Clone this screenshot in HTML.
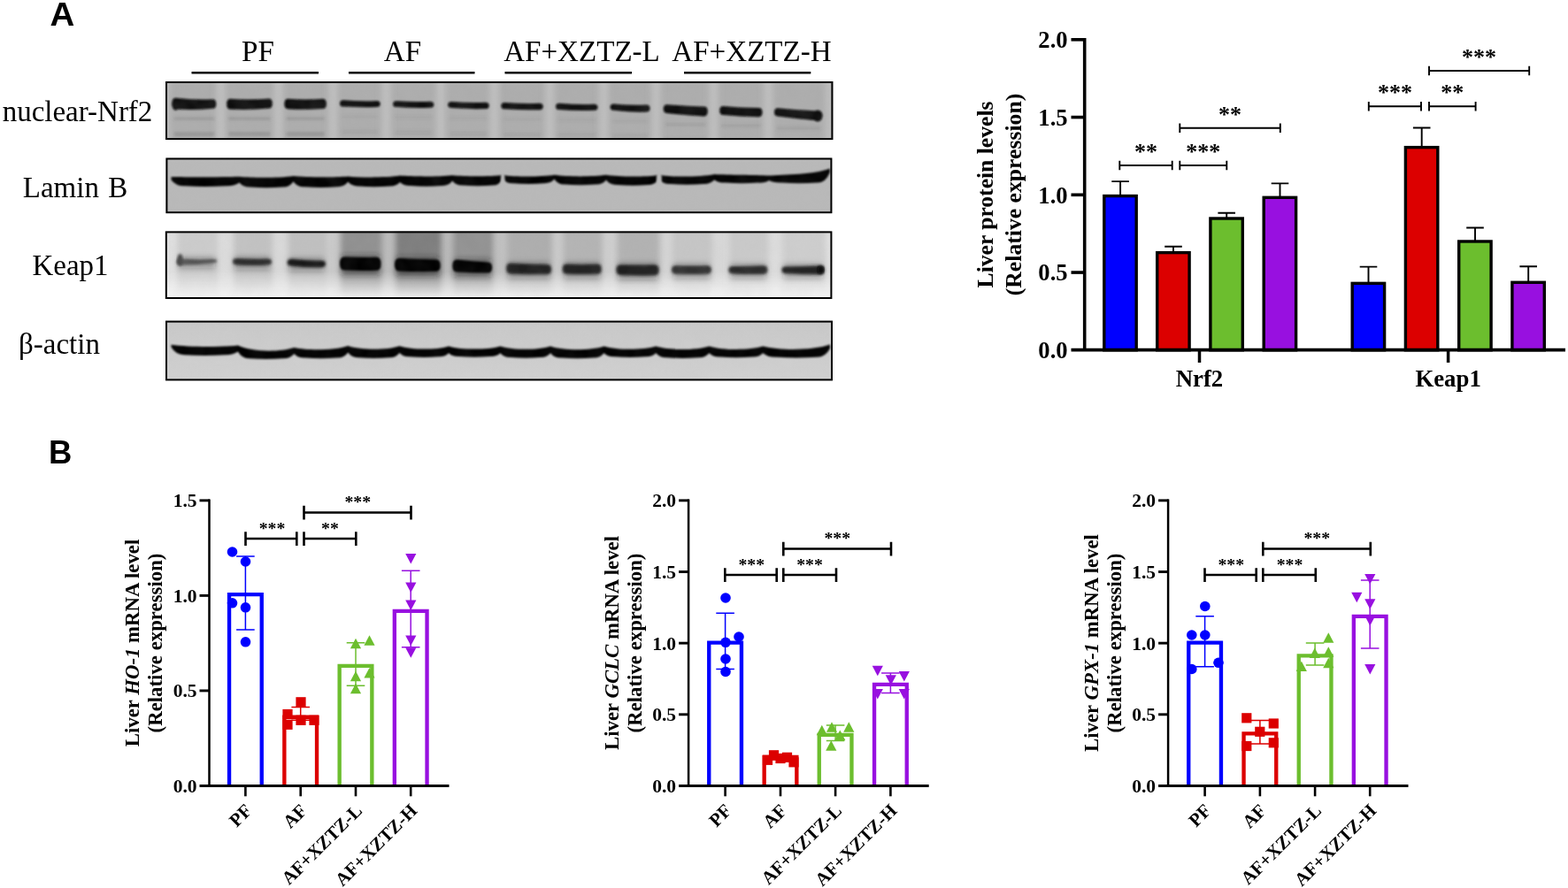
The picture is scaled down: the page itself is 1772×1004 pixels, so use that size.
<!DOCTYPE html>
<html lang="en"><head><meta charset="utf-8"><title>Figure</title>
<style>html,body{margin:0;padding:0;background:#fff}svg{display:block}text{fill:#000}</style></head><body>
<svg width="1772" height="1004" viewBox="0 0 1772 1004">
<rect width="1772" height="1004" fill="#fff"/>
<text transform="translate(56.4 29.3) scale(1.12 1.05)" font-family="Liberation Sans, sans-serif" font-weight="bold" font-size="34.4">A</text>
<text transform="translate(55 524.2) scale(1.06 1.05)" font-family="Liberation Sans, sans-serif" font-weight="bold" font-size="34.4">B</text>
<defs>
<filter id="b1" x="-5%" y="-50%" width="110%" height="200%"><feGaussianBlur stdDeviation="1.1"/></filter>
<filter id="b5" x="-5%" y="-50%" width="110%" height="200%"><feGaussianBlur stdDeviation="1.4"/></filter>
<filter id="b2" x="-5%" y="-50%" width="110%" height="200%"><feGaussianBlur stdDeviation="1.8"/></filter>
<filter id="b3" x="-5%" y="-20%" width="110%" height="140%"><feGaussianBlur stdDeviation="3.2"/></filter>
<filter id="b4" x="-5%" y="-50%" width="110%" height="200%"><feGaussianBlur stdDeviation="2.6 1.6"/></filter>
<filter id="nz" x="0" y="0" width="100%" height="100%"><feTurbulence type="fractalNoise" baseFrequency="0.06" numOctaves="2" seed="3"/><feColorMatrix values="0 0 0 0 0.5  0 0 0 0 0.5  0 0 0 0 0.5  0.9 0 0 -0.32 0"/></filter>
<clipPath id="cp0"><rect x="187" y="92" width="754.4" height="66.1"/></clipPath>
<clipPath id="cp1"><rect x="187.4" y="178.5" width="753" height="62.7"/></clipPath>
<clipPath id="cp2"><rect x="186.8" y="261.4" width="753.6" height="76.6"/></clipPath>
<clipPath id="cp3"><rect x="187" y="362.6" width="754" height="67.8"/></clipPath>
<linearGradient id="kfade" x1="0" y1="0" x2="0" y2="1"><stop offset="0" stop-color="#fff"/><stop offset="0.6" stop-color="#fff"/><stop offset="0.8" stop-color="#777"/><stop offset="1" stop-color="#000"/></linearGradient>
<mask id="km" maskUnits="userSpaceOnUse" x="180" y="255" width="770" height="90"><rect x="180" y="261" width="770" height="77" fill="url(#kfade)"/></mask>
<linearGradient id="kbase" x1="187" y1="0" x2="941" y2="0" gradientUnits="userSpaceOnUse"><stop offset="0" stop-color="#e0e0e0"/><stop offset="0.2" stop-color="#d8d8d8"/><stop offset="0.3" stop-color="#bcbcbc"/><stop offset="0.45" stop-color="#b8b8b8"/><stop offset="0.55" stop-color="#c8c8c8"/><stop offset="0.75" stop-color="#d4d4d4"/><stop offset="1" stop-color="#e0e0e0"/></linearGradient>
<linearGradient id="bgrad" x1="0" y1="0" x2="0" y2="1"><stop offset="0" stop-color="#c9c9c9"/><stop offset="1" stop-color="#d1d1d1"/></linearGradient>
</defs>
<text x="291.5" y="68.8" text-anchor="middle" font-family="Liberation Serif, serif" font-size="33.1">PF</text>
<text x="455" y="68.8" text-anchor="middle" font-family="Liberation Serif, serif" font-size="33.1">AF</text>
<text x="657.5" y="68.8" text-anchor="middle" font-family="Liberation Serif, serif" font-size="33.1">AF+XZTZ-L</text>
<text x="849.5" y="68.8" text-anchor="middle" font-family="Liberation Serif, serif" font-size="33.1">AF+XZTZ-H</text>
<path d="M216.5 82.2H360" stroke="#000" stroke-width="2.4"/>
<path d="M394 82.2H536.5" stroke="#000" stroke-width="2.4"/>
<path d="M570.5 82.2H714" stroke="#000" stroke-width="2.4"/>
<path d="M773 82.2H916.3" stroke="#000" stroke-width="2.4"/>
<text x="87.5" y="137" text-anchor="middle" word-spacing="0" font-family="Liberation Serif, serif" font-size="33">nuclear-Nrf2</text>
<text x="85" y="222.5" text-anchor="middle" word-spacing="2" font-family="Liberation Serif, serif" font-size="33">Lamin B</text>
<text x="79.5" y="310.5" text-anchor="middle" word-spacing="0" font-family="Liberation Serif, serif" font-size="33">Keap1</text>
<text x="67" y="400" text-anchor="middle" word-spacing="0" font-family="Liberation Serif, serif" font-size="33">β-actin</text>
<g clip-path="url(#cp0)">
<rect x="187" y="92" width="754.4" height="66.1" fill="#adadad"/>
<g filter="url(#b3)">
<rect x="244.4" y="82" width="10" height="86.1" fill="#c0c0c0"/>
<rect x="309.6" y="82" width="10" height="86.1" fill="#c0c0c0"/>
<rect x="371.4" y="82" width="10" height="86.1" fill="#c0c0c0"/>
<rect x="431.5" y="82" width="10" height="86.1" fill="#c0c0c0"/>
<rect x="493" y="82" width="10" height="86.1" fill="#c0c0c0"/>
<rect x="553.7" y="82" width="10" height="86.1" fill="#c0c0c0"/>
<rect x="616.3" y="82" width="10" height="86.1" fill="#c0c0c0"/>
<rect x="677.2" y="82" width="10" height="86.1" fill="#c0c0c0"/>
<rect x="736.5" y="82" width="10" height="86.1" fill="#c0c0c0"/>
<rect x="801.5" y="82" width="10" height="86.1" fill="#c0c0c0"/>
<rect x="863.2" y="82" width="10" height="86.1" fill="#c0c0c0"/>
<rect x="183" y="82" width="9" height="86.1" fill="#bcbcbc"/>
<rect x="932" y="82" width="12" height="86.1" fill="#bcbcbc"/>
</g>
<g filter="url(#b2)">
<rect x="196.4" y="132.7" width="45.9" height="3" fill="#555" opacity="0.24"/>
<rect x="196.4" y="149.2" width="45.9" height="5" fill="#555" opacity="0.24"/>
<rect x="258.2" y="132.6" width="47.6" height="3" fill="#555" opacity="0.24"/>
<rect x="258.2" y="149.1" width="47.6" height="5" fill="#555" opacity="0.24"/>
<rect x="323.4" y="132.6" width="43.4" height="3" fill="#555" opacity="0.24"/>
<rect x="323.4" y="149.1" width="43.4" height="5" fill="#555" opacity="0.24"/>
<rect x="386" y="130.25" width="41.7" height="3" fill="#555" opacity="0.1"/>
<rect x="386" y="146.75" width="41.7" height="5" fill="#555" opacity="0.1"/>
<rect x="446.1" y="130.95" width="42.2" height="3" fill="#555" opacity="0.1"/>
<rect x="446.1" y="147.45" width="42.2" height="5" fill="#555" opacity="0.1"/>
<rect x="508.2" y="132.05" width="42.5" height="3" fill="#555" opacity="0.1"/>
<rect x="508.2" y="148.55" width="42.5" height="5" fill="#555" opacity="0.1"/>
<rect x="568.3" y="133.25" width="43.4" height="3" fill="#555" opacity="0.1"/>
<rect x="568.3" y="149.75" width="43.4" height="5" fill="#555" opacity="0.1"/>
<rect x="630" y="133.9" width="43.5" height="3" fill="#555" opacity="0.1"/>
<rect x="630" y="150.4" width="43.5" height="5" fill="#555" opacity="0.1"/>
<rect x="691.6" y="135.2" width="40.9" height="3" fill="#555" opacity="0.1"/>
<rect x="691.6" y="151.7" width="40.9" height="5" fill="#555" opacity="0.1"/>
<rect x="751.7" y="139.2" width="46" height="3" fill="#555" opacity="0.16"/>
<rect x="751.7" y="155.7" width="46" height="5" fill="#555" opacity="0.16"/>
<rect x="815.2" y="140.6" width="44.3" height="3" fill="#555" opacity="0.16"/>
<rect x="815.2" y="157.1" width="44.3" height="5" fill="#555" opacity="0.16"/>
<rect x="877" y="143.4" width="50.2" height="3" fill="#555" opacity="0.16"/>
<rect x="877" y="159.9" width="50.2" height="5" fill="#555" opacity="0.16"/>
</g>
<g filter="url(#b1)" fill="#0a0a0a">
<path d="M198.4 110.8Q219.35 113.1 240.3 112.2Q244.3 112.2 244.3 117.5Q244.3 122.8 240.3 122.8Q219.35 124.8 198.4 123.6Q194.4 123.6 194.4 117.2Q194.4 110.8 198.4 110.8Z"/>
<path d="M260.2 111.8Q282 113.3 303.8 111.6Q307.8 111.6 307.8 117.1Q307.8 122.6 303.8 122.6Q282 124.7 260.2 123.6Q256.2 123.6 256.2 117.7Q256.2 111.8 260.2 111.8Z"/>
<path d="M325.4 111.8Q345.1 113 364.8 111.8Q368.8 111.8 368.8 117.4Q368.8 123 364.8 123Q345.1 124.3 325.4 123.2Q321.4 123.2 321.4 117.5Q321.4 111.8 325.4 111.8Z"/>
<path d="M388 113.3Q406.85 114.65 425.7 114Q429.7 114 429.7 117.5Q429.7 121 425.7 121Q406.85 121.75 388 120.5Q384 120.5 384 116.9Q384 113.3 388 113.3Z"/>
<path d="M448.1 114.3Q467.2 115.55 486.3 114.8Q490.3 114.8 490.3 118.3Q490.3 121.8 486.3 121.8Q467.2 122.45 448.1 121.1Q444.1 121.1 444.1 117.7Q444.1 114.3 448.1 114.3Z"/>
<path d="M510.2 115.1Q529.45 116.45 548.7 115.8Q552.7 115.8 552.7 119.4Q552.7 123 548.7 123Q529.45 123.55 510.2 122.1Q506.2 122.1 506.2 118.6Q506.2 115.1 510.2 115.1Z"/>
<path d="M570.3 116Q590 117.4 609.7 116.8Q613.7 116.8 613.7 120.5Q613.7 124.2 609.7 124.2Q590 124.75 570.3 123.3Q566.3 123.3 566.3 119.65Q566.3 116 570.3 116Z"/>
<path d="M632 116.8Q651.75 118.5 671.5 117.8Q675.5 117.8 675.5 121.3Q675.5 124.8 671.5 124.8Q651.75 125.6 632 124Q628 124 628 120.4Q628 116.8 632 116.8Z"/>
<path d="M693.6 117.6Q712.05 119.3 730.5 118.6Q734.5 118.6 734.5 122.6Q734.5 126.6 730.5 126.6Q712.05 126.9 693.6 124.8Q689.6 124.8 689.6 121.2Q689.6 117.6 693.6 117.6Z"/>
<path d="M753.7 118.2Q774.7 120 795.7 120.6Q799.7 120.6 799.7 126Q799.7 131.4 795.7 131.4Q774.7 130.3 753.7 128Q749.7 128 749.7 123.1Q749.7 118.2 753.7 118.2Z"/>
<path d="M817.2 120Q837.35 122 857.5 122Q861.5 122 861.5 127.1Q861.5 132.2 857.5 132.2Q837.35 132.1 817.2 130Q813.2 130 813.2 125Q813.2 120 817.2 120Z"/>
<path d="M879 122.2Q902.1 124.5 925.2 125.6Q929.2 125.6 929.2 131Q929.2 136.4 925.2 136.4Q902.1 134.5 879 131.4Q875 131.4 875 126.8Q875 122.2 879 122.2Z"/>
<ellipse cx="198.5" cy="117.8" rx="4" ry="7"/>
<ellipse cx="924" cy="131" rx="5.5" ry="6.5"/>
</g>
<rect x="187" y="92" width="754.4" height="66.1" filter="url(#nz)" opacity="0.16"/>
</g>
<g clip-path="url(#cp1)">
<rect x="187.4" y="178.5" width="753" height="62.7" fill="#b9b9b9"/>
<path d="M193.5 200C212.78 200.3 251.33 200.3 270.6 199.8C285.83 201.27 316.27 201.27 331.5 199C346.95 200.53 377.85 200.53 393.3 199.4C407.98 200.87 437.32 200.87 452 198.6C466.82 199.73 496.48 199.73 511.3 198.2C525.48 199.57 553.83 199.57 568 198C582.6 200.17 611.8 200.17 626.4 197.8C641.05 199.93 670.35 199.93 685 197.8C699.9 200.17 729.7 200.17 744.6 198C760.27 200.3 791.62 200.3 807.3 197C822.72 197.8 853.58 197.8 869 198.6C886.2 197.3 920.6 197.3 937.8 190.4L937.8 195Q932.98 206.7 924.04 206.4Q903.4 207.9 882.76 206.4Q873.82 206.7 869 204Q864.68 206.9 856.66 206.6Q838.15 208.1 819.64 206.6Q811.62 206.9 807.3 203.2Q802.91 208.3 794.76 208Q775.95 209.5 757.14 208Q748.99 208.3 744.6 202Q740.43 209.3 732.68 209Q714.8 210.5 696.92 209Q689.17 209.3 685 203.6Q680.9 208.9 673.28 208.6Q655.7 210.1 638.12 208.6Q630.5 208.9 626.4 202.6Q622.31 207.5 614.72 207.2Q597.2 208.7 579.68 207.2Q572.09 207.5 568 202Q564.03 209.9 556.66 209.6Q539.65 211.1 522.64 209.6Q515.27 209.9 511.3 204.6Q507.15 210.3 499.44 210Q481.65 211.5 463.86 210Q456.15 210.3 452 206Q447.89 210.7 440.26 210.4Q422.65 211.9 405.04 210.4Q397.41 210.7 393.3 205.6Q388.97 211.5 380.94 211.2Q362.4 212.7 343.86 211.2Q335.83 211.5 331.5 205.2Q327.24 211.9 319.32 211.6Q301.05 213.1 282.78 211.6Q274.86 211.9 270.6 206.6Q265.2 210.5 255.18 210.2Q232.05 211.7 208.92 210.2Q198.9 210.5 193.5 203.4Z" fill="#050505" filter="url(#b1)"/>
<g filter="url(#b1)" fill="#b9b9b9"><ellipse cx="568.2" cy="202" rx="2.3" ry="8"/><ellipse cx="744.8" cy="202" rx="3" ry="8"/></g>
<rect x="187.4" y="178.5" width="753" height="62.7" filter="url(#nz)" opacity="0.13"/>
</g>
<g clip-path="url(#cp2)">
<rect x="186.8" y="261.4" width="753.6" height="76.6" fill="#f7f7f7"/>
<g mask="url(#km)">
<rect x="186.8" y="261.4" width="753.6" height="76.6" fill="url(#kbase)"/>
<g filter="url(#b3)">
<rect x="200.5" y="253.4" width="45.7" height="92.6" fill="#cccccc"/>
<rect x="264" y="253.4" width="44" height="92.6" fill="#c2c2c2"/>
<rect x="325.7" y="253.4" width="43.3" height="92.6" fill="#c0c0c0"/>
<rect x="385" y="253.4" width="46.5" height="92.6" fill="#909090"/>
<rect x="447" y="253.4" width="51.7" height="92.6" fill="#7e7e7e"/>
<rect x="512.3" y="253.4" width="44.8" height="92.6" fill="#929292"/>
<rect x="573.2" y="253.4" width="50.8" height="92.6" fill="#aeaeae"/>
<rect x="636.7" y="253.4" width="44" height="92.6" fill="#b4b4b4"/>
<rect x="697.4" y="253.4" width="48.2" height="92.6" fill="#b2b2b2"/>
<rect x="760" y="253.4" width="44.9" height="92.6" fill="#c6c6c6"/>
<rect x="824.4" y="253.4" width="44" height="92.6" fill="#cacaca"/>
<rect x="884.5" y="253.4" width="48.2" height="92.6" fill="#cecece"/>
</g></g>
<g filter="url(#b3)">
<rect x="201.5" y="290.8" width="41.7" height="12.6" fill="#222" opacity="0.3"/>
<rect x="265" y="290.2" width="40" height="14.3" fill="#222" opacity="0.3"/>
<rect x="326.7" y="291.6" width="39.3" height="14.9" fill="#222" opacity="0.3"/>
<rect x="386" y="288.7" width="42.5" height="22" fill="#222" opacity="0.5"/>
<rect x="448" y="290.7" width="47.7" height="20.9" fill="#222" opacity="0.5"/>
<rect x="513.3" y="293.1" width="40.8" height="20" fill="#222" opacity="0.5"/>
<rect x="574.2" y="296.3" width="46.8" height="18.4" fill="#222" opacity="0.3"/>
<rect x="637.7" y="296.6" width="40" height="18.2" fill="#222" opacity="0.3"/>
<rect x="698.4" y="297.2" width="44.2" height="18.9" fill="#222" opacity="0.3"/>
<rect x="761" y="298.2" width="40.9" height="16.6" fill="#222" opacity="0.3"/>
<rect x="825.4" y="298.6" width="40" height="16.1" fill="#222" opacity="0.3"/>
<rect x="885.5" y="298.7" width="44.2" height="16" fill="#222" opacity="0.3"/>
</g>
<path d="M204.5 292.6Q222.35 294 240.2 293Q245.2 293 245.2 295.1Q245.2 297.2 240.2 297.2Q222.35 299.6 204.5 299.6Q199.5 299.6 199.5 296.1Q199.5 292.6 204.5 292.6Z" fill="#4a4a4a" opacity="0.9" filter="url(#b5)"/>
<path d="M268 292Q285 293.4 302 292.4Q307 292.4 307 296Q307 299.6 302 299.6Q285 300.7 268 299.4Q263 299.4 263 295.7Q263 292 268 292Z" fill="#262626" opacity="0.95" filter="url(#b5)"/>
<path d="M329.7 292.8Q346.35 294.8 363 294.4Q368 294.4 368 298.3Q368 302.2 363 302.2Q346.35 302.7 329.7 300.8Q324.7 300.8 324.7 296.8Q324.7 292.8 329.7 292.8Z" fill="#161616" opacity="1" filter="url(#b5)"/>
<path d="M389 290.6Q407.25 291.3 425.5 290.8Q430.5 290.8 430.5 298.3Q430.5 305.8 425.5 305.8Q407.25 306.3 389 305.6Q384 305.6 384 298.1Q384 290.6 389 290.6Z" fill="#000" opacity="1" filter="url(#b1)"/>
<path d="M451 292Q471.85 293.3 492.7 293.4Q497.7 293.4 497.7 300.1Q497.7 306.8 492.7 306.8Q471.85 307.2 451 306.4Q446 306.4 446 299.2Q446 292 451 292Z" fill="#000" opacity="1" filter="url(#b1)"/>
<path d="M516.3 293.6Q533.7 295.7 551.1 296.6Q556.1 296.6 556.1 302.6Q556.1 308.6 551.1 308.6Q533.7 308.7 516.3 307.6Q511.3 307.6 511.3 300.6Q511.3 293.6 516.3 293.6Z" fill="#000" opacity="1" filter="url(#b1)"/>
<path d="M577.2 297.6Q597.6 298.9 618 299Q623 299 623 304.5Q623 310 618 310Q597.6 310.3 577.2 309.4Q572.2 309.4 572.2 303.5Q572.2 297.6 577.2 297.6Z" fill="#1a1a1a" opacity="0.97" filter="url(#b5)"/>
<path d="M640.7 298.6Q657.7 299.2 674.7 298.6Q679.7 298.6 679.7 304.2Q679.7 309.8 674.7 309.8Q657.7 310.4 640.7 309.8Q635.7 309.8 635.7 304.2Q635.7 298.6 640.7 298.6Z" fill="#1e1e1e" opacity="0.97" filter="url(#b5)"/>
<path d="M701.4 299.2Q720.5 299.8 739.6 299.2Q744.6 299.2 744.6 305.2Q744.6 311.2 739.6 311.2Q720.5 311.7 701.4 311Q696.4 311 696.4 305.1Q696.4 299.2 701.4 299.2Z" fill="#1a1a1a" opacity="0.97" filter="url(#b5)"/>
<path d="M764 300.2Q781.45 300.8 798.9 300.2Q803.9 300.2 803.9 305Q803.9 309.8 798.9 309.8Q781.45 310.4 764 309.8Q759 309.8 759 305Q759 300.2 764 300.2Z" fill="#2a2a2a" opacity="0.95" filter="url(#b5)"/>
<path d="M828.4 301Q845.4 301.2 862.4 300.2Q867.4 300.2 867.4 305.1Q867.4 310 862.4 310Q845.4 310.3 828.4 309.4Q823.4 309.4 823.4 305.2Q823.4 301 828.4 301Z" fill="#242424" opacity="0.95" filter="url(#b5)"/>
<path d="M888.5 301.2Q907.6 301.3 926.7 300.2Q931.7 300.2 931.7 305.2Q931.7 310.2 926.7 310.2Q907.6 310.3 888.5 309.2Q883.5 309.2 883.5 305.2Q883.5 301.2 888.5 301.2Z" fill="#1e1e1e" opacity="0.97" filter="url(#b5)"/>
<ellipse cx="203.5" cy="294" rx="3.2" ry="7" fill="#444" filter="url(#b2)"/>
<ellipse cx="927.5" cy="305" rx="4" ry="4.6" fill="#080808" filter="url(#b5)"/>
<rect x="186.8" y="261.4" width="753.6" height="76.6" filter="url(#nz)" opacity="0.12"/>
</g>
<g clip-path="url(#cp3)">
<rect x="187" y="362.6" width="754" height="67.8" fill="url(#bgrad)"/>
<path d="M193.5 389.8C212.35 392.6 250.05 392.6 268.9 390.6C284.77 398.2 316.52 398.2 332.4 393C347.62 396.27 378.07 396.27 393.3 391C407.85 396.03 436.95 396.03 451.5 391.2C465.38 395.7 493.12 395.7 507 391.4C521.6 395.67 550.8 395.67 565.4 391.4C579.58 395.93 607.92 395.93 622.1 391.4C637.2 396.47 667.4 396.47 682.5 391.4C697.2 395.9 726.6 395.9 741.3 391.6C756.32 396.17 786.38 396.17 801.4 391.4C816.62 396.17 847.07 396.17 862.3 391.6C881.22 396.47 919.08 396.47 938 389.6L938 394Q932.7 404.1 922.86 403.8Q900.15 405.3 877.44 403.8Q867.6 404.1 862.3 399.2Q858.04 403.7 850.12 403.4Q831.85 404.9 813.58 403.4Q805.66 403.7 801.4 399.2Q797.19 404.5 789.38 404.2Q771.35 405.7 753.32 404.2Q745.51 404.5 741.3 399.2Q737.18 403.5 729.54 403.2Q711.9 404.7 694.26 403.2Q686.62 403.5 682.5 399.2Q678.27 404.7 670.42 404.4Q652.3 405.9 634.18 404.4Q626.33 404.7 622.1 399.2Q618.13 404.3 610.76 404Q593.75 405.5 576.74 404Q569.37 404.3 565.4 399.2Q561.31 403.3 553.72 403Q536.2 404.5 518.68 403Q511.09 403.3 507 399.2Q503.12 403.5 495.9 403.2Q479.25 404.7 462.6 403.2Q455.38 403.5 451.5 399Q447.43 404.5 439.86 404.2Q422.4 405.7 404.94 404.2Q397.37 404.5 393.3 398.6Q389.04 404.9 381.12 404.6Q362.85 406.1 344.58 404.6Q336.66 404.9 332.4 400Q327.95 405.5 319.7 405.2Q300.65 406.7 281.6 405.2Q273.34 405.5 268.9 397.6Q263.62 401.5 253.82 401.2Q231.2 402.7 208.58 401.2Q198.78 401.5 193.5 392.6Z" fill="#050505" filter="url(#b1)"/>
<rect x="187" y="362.6" width="754" height="67.8" filter="url(#nz)" opacity="0.1"/>
</g>
<rect x="188" y="93" width="752.4" height="64.1" fill="none" stroke="#000" stroke-width="2"/>
<rect x="188.4" y="179.5" width="751" height="60.7" fill="none" stroke="#000" stroke-width="2"/>
<rect x="187.8" y="262.4" width="751.6" height="74.6" fill="none" stroke="#000" stroke-width="2"/>
<rect x="188" y="363.6" width="752" height="65.8" fill="none" stroke="#000" stroke-width="2"/>
<path d="M1266.1 221.25V205.08M1256.3 205.08H1275.9" stroke="#000" stroke-width="1.9" fill="none"/>
<rect x="1247.8" y="221.55" width="36.4" height="174.25" fill="#0000ff" stroke="#000" stroke-width="3.4"/>
<path d="M1326 285.31V278.79M1316.2 278.79H1335.8" stroke="#000" stroke-width="1.9" fill="none"/>
<rect x="1307.7" y="285.61" width="36.4" height="110.19" fill="#dc0000" stroke="#000" stroke-width="3.4"/>
<path d="M1386.2 246.7V240.71M1376.4 240.71H1396" stroke="#000" stroke-width="1.9" fill="none"/>
<rect x="1367.9" y="247" width="36.4" height="148.8" fill="#6cbe2e" stroke="#000" stroke-width="3.4"/>
<path d="M1446.5 223V207.36M1436.7 207.36H1456.3" stroke="#000" stroke-width="1.9" fill="none"/>
<rect x="1428.2" y="223.31" width="36.4" height="172.5" fill="#9810e0" stroke="#000" stroke-width="3.4"/>
<path d="M1546.5 320.06V301.61M1536.7 301.61H1556.3" stroke="#000" stroke-width="1.9" fill="none"/>
<rect x="1528.2" y="320.36" width="36.4" height="75.44" fill="#0000ff" stroke="#000" stroke-width="3.4"/>
<path d="M1606.7 166.32V144.54M1596.9 144.54H1616.5" stroke="#000" stroke-width="1.9" fill="none"/>
<rect x="1588.4" y="166.62" width="36.4" height="229.18" fill="#dc0000" stroke="#000" stroke-width="3.4"/>
<path d="M1667 272.67V257.56M1657.2 257.56H1676.8" stroke="#000" stroke-width="1.9" fill="none"/>
<rect x="1648.7" y="272.97" width="36.4" height="122.83" fill="#6cbe2e" stroke="#000" stroke-width="3.4"/>
<path d="M1727.2 319V301.26M1717.4 301.26H1737" stroke="#000" stroke-width="1.9" fill="none"/>
<rect x="1708.9" y="319.3" width="36.4" height="76.5" fill="#9810e0" stroke="#000" stroke-width="3.4"/>
<path d="M1225.7 43V397.2M1210.5 395.6H1769" stroke="#000" stroke-width="3.6" fill="none"/>
<path d="M1210.5 308.05H1226" stroke="#000" stroke-width="3.6"/>
<path d="M1210.5 220.3H1226" stroke="#000" stroke-width="3.6"/>
<path d="M1210.5 132.55H1226" stroke="#000" stroke-width="3.6"/>
<path d="M1210.5 44.8H1226" stroke="#000" stroke-width="3.6"/>
<text x="1206.6" y="405.1" text-anchor="end" font-family="Liberation Serif, serif" font-weight="bold" font-size="26.6">0.0</text>
<text x="1206.6" y="317.35" text-anchor="end" font-family="Liberation Serif, serif" font-weight="bold" font-size="26.6">0.5</text>
<text x="1206.6" y="229.6" text-anchor="end" font-family="Liberation Serif, serif" font-weight="bold" font-size="26.6">1.0</text>
<text x="1206.6" y="141.85" text-anchor="end" font-family="Liberation Serif, serif" font-weight="bold" font-size="26.6">1.5</text>
<text x="1206.6" y="54.1" text-anchor="end" font-family="Liberation Serif, serif" font-weight="bold" font-size="26.6">2.0</text>
<path d="M1355.5 395.5V410" stroke="#000" stroke-width="3.5"/>
<text x="1355.5" y="437.2" text-anchor="middle" font-family="Liberation Serif, serif" font-weight="bold" font-size="26.8">Nrf2</text>
<path d="M1636.6 395.5V410" stroke="#000" stroke-width="3.5"/>
<text x="1636.6" y="437.2" text-anchor="middle" font-family="Liberation Serif, serif" font-weight="bold" font-size="26.8">Keap1</text>
<text transform="translate(1122.2 220) rotate(-90)" text-anchor="middle" font-family="Liberation Serif, serif" font-weight="bold" font-size="25.6">Liver protein levels</text>
<text transform="translate(1154 220) rotate(-90)" text-anchor="middle" font-family="Liberation Serif, serif" font-weight="bold" font-size="25.7">(Relative expression)</text>
<path d="M1265.3 181.8V192.2M1324.7 181.8V192.2M1265.3 187H1324.7" stroke="#000" stroke-width="1.9" fill="none"/>
<text x="1295" y="179.9" text-anchor="middle" font-family="Liberation Serif, serif" font-weight="bold" font-size="26">**</text>
<path d="M1333.3 181.8V192.2M1386.3 181.8V192.2M1333.3 187H1386.3" stroke="#000" stroke-width="1.9" fill="none"/>
<text x="1359.8" y="179.9" text-anchor="middle" font-family="Liberation Serif, serif" font-weight="bold" font-size="26">***</text>
<path d="M1333.3 139.6V150M1446.8 139.6V150M1333.3 144.8H1446.8" stroke="#000" stroke-width="1.9" fill="none"/>
<text x="1390.05" y="137.6" text-anchor="middle" font-family="Liberation Serif, serif" font-weight="bold" font-size="26">**</text>
<path d="M1546.8 115.1V125.5M1606 115.1V125.5M1546.8 120.3H1606" stroke="#000" stroke-width="1.9" fill="none"/>
<text x="1576.4" y="113.2" text-anchor="middle" font-family="Liberation Serif, serif" font-weight="bold" font-size="26">***</text>
<path d="M1615 115.1V125.5M1667.6 115.1V125.5M1615 120.3H1667.6" stroke="#000" stroke-width="1.9" fill="none"/>
<text x="1641.3" y="113.2" text-anchor="middle" font-family="Liberation Serif, serif" font-weight="bold" font-size="26">**</text>
<path d="M1615 74.8V85.2M1728.2 74.8V85.2M1615 80H1728.2" stroke="#000" stroke-width="1.9" fill="none"/>
<text x="1671.6" y="73.1" text-anchor="middle" font-family="Liberation Serif, serif" font-weight="bold" font-size="26">***</text>
<path d="M259.05 888.45V672.1H295.75V888.45" fill="none" stroke="#0000ff" stroke-width="4.35" stroke-linejoin="miter"/>
<path d="M277.4 629V712M267.1 629H287.7M267.1 712H287.7" stroke="#0000ff" stroke-width="1.5" fill="none"/>
<circle cx="262.5" cy="624" r="5.8" fill="#0000ff"/>
<circle cx="277.5" cy="635" r="5.8" fill="#0000ff"/>
<circle cx="262.5" cy="681.8" r="5.8" fill="#0000ff"/>
<circle cx="277.5" cy="686.8" r="5.8" fill="#0000ff"/>
<circle cx="277.5" cy="725.8" r="5.8" fill="#0000ff"/>
<path d="M321.35 888.45V810.7H358.05V888.45" fill="none" stroke="#dc0000" stroke-width="4.35" stroke-linejoin="miter"/>
<path d="M339.7 799.5V814.3M329.4 799.5H350M329.4 814.3H350" stroke="#dc0000" stroke-width="1.5" fill="none"/>
<rect x="334.4" y="788.2" width="11.2" height="11.2" fill="#dc0000"/>
<rect x="319.4" y="801.9" width="11.2" height="11.2" fill="#dc0000"/>
<rect x="349.4" y="808.7" width="11.2" height="11.2" fill="#dc0000"/>
<rect x="334.4" y="808.7" width="11.2" height="11.2" fill="#dc0000"/>
<rect x="319.4" y="813.7" width="11.2" height="11.2" fill="#dc0000"/>
<path d="M383.65 888.45V752.9H420.35V888.45" fill="none" stroke="#6cbe2e" stroke-width="4.35" stroke-linejoin="miter"/>
<path d="M402 726.8V775.3M391.7 726.8H412.3M391.7 775.3H412.3" stroke="#6cbe2e" stroke-width="1.5" fill="none"/>
<path d="M417.5 718.2L423.6 729.7H411.4Z" fill="#6cbe2e"/>
<path d="M402 721.7L408.1 733.2H395.9Z" fill="#6cbe2e"/>
<path d="M417.5 755L423.6 766.5H411.4Z" fill="#6cbe2e"/>
<path d="M402 758.7L408.1 770.2H395.9Z" fill="#6cbe2e"/>
<path d="M402 772.7L408.1 784.2H395.9Z" fill="#6cbe2e"/>
<path d="M445.85 888.45V690.9H482.55V888.45" fill="none" stroke="#9810e0" stroke-width="4.35" stroke-linejoin="miter"/>
<path d="M464.2 645.3V731.8M453.9 645.3H474.5M453.9 731.8H474.5" stroke="#9810e0" stroke-width="1.5" fill="none"/>
<path d="M464.3 637.6L470.4 626.1H458.2Z" fill="#9810e0"/>
<path d="M464.3 670.1L470.4 658.6H458.2Z" fill="#9810e0"/>
<path d="M464.3 690.1L470.4 678.6H458.2Z" fill="#9810e0"/>
<path d="M464.3 730.1L470.4 718.6H458.2Z" fill="#9810e0"/>
<path d="M464.3 743.8L470.4 732.3H458.2Z" fill="#9810e0"/>
<path d="M236.5 564.45V889.85" stroke="#000" stroke-width="2.5" fill="none"/><path d="M225.5 888.45H507.5" stroke="#000" stroke-width="2.9" fill="none"/>
<text x="222.5" y="895.95" text-anchor="end" font-family="Liberation Serif, serif" font-weight="bold" font-size="21.5">0.0</text>
<path d="M225.5 780.92H237" stroke="#000" stroke-width="2.9"/>
<text x="222.5" y="788.42" text-anchor="end" font-family="Liberation Serif, serif" font-weight="bold" font-size="21.5">0.5</text>
<path d="M225.5 673.38H237" stroke="#000" stroke-width="2.9"/>
<text x="222.5" y="680.88" text-anchor="end" font-family="Liberation Serif, serif" font-weight="bold" font-size="21.5">1.0</text>
<path d="M225.5 565.85H237" stroke="#000" stroke-width="2.9"/>
<text x="222.5" y="573.35" text-anchor="end" font-family="Liberation Serif, serif" font-weight="bold" font-size="21.5">1.5</text>
<path d="M277.4 888.45V900.3" stroke="#000" stroke-width="2.6"/>
<text transform="translate(285.7 917.8) rotate(-45)" text-anchor="end" font-family="Liberation Serif, serif" font-weight="bold" font-size="21">PF</text>
<path d="M339.7 888.45V900.3" stroke="#000" stroke-width="2.6"/>
<text transform="translate(348 917.8) rotate(-45)" text-anchor="end" font-family="Liberation Serif, serif" font-weight="bold" font-size="21">AF</text>
<path d="M402 888.45V900.3" stroke="#000" stroke-width="2.6"/>
<text transform="translate(410.3 917.8) rotate(-45)" text-anchor="end" font-family="Liberation Serif, serif" font-weight="bold" font-size="21">AF+XZTZ-L</text>
<path d="M464.2 888.45V900.3" stroke="#000" stroke-width="2.6"/>
<text transform="translate(472.5 917.8) rotate(-45)" text-anchor="end" font-family="Liberation Serif, serif" font-weight="bold" font-size="21">AF+XZTZ-H</text>
<text transform="translate(156.5 727) rotate(-90)" text-anchor="middle" font-family="Liberation Serif, serif" font-weight="bold" font-size="22.8">Liver <tspan font-style="italic">HO-1</tspan> mRNA level</text>
<text transform="translate(183 727) rotate(-90)" text-anchor="middle" font-family="Liberation Serif, serif" font-weight="bold" font-size="22.8">(Relative expression)</text>
<path d="M277.5 601.3V616.9M335.3 601.3V616.9M277.5 609.05H335.3" stroke="#000" stroke-width="2.6" fill="none"/>
<text x="307.5" y="603.6" text-anchor="middle" font-family="Liberation Serif, serif" font-weight="bold" font-size="19.8">***</text>
<path d="M343.5 601.3V616.9M402.3 601.3V616.9M343.5 609.05H402.3" stroke="#000" stroke-width="2.6" fill="none"/>
<text x="373" y="603.6" text-anchor="middle" font-family="Liberation Serif, serif" font-weight="bold" font-size="19.8">**</text>
<path d="M343.5 571.8V587.4M464.5 571.8V587.4M343.5 579.55H464.5" stroke="#000" stroke-width="2.6" fill="none"/>
<text x="404.3" y="574.1" text-anchor="middle" font-family="Liberation Serif, serif" font-weight="bold" font-size="19.8">***</text>
<path d="M801.25 888.45V726.6H837.95V888.45" fill="none" stroke="#0000ff" stroke-width="4.35" stroke-linejoin="miter"/>
<path d="M819.6 693.3V756.5M809.3 693.3H829.9M809.3 756.5H829.9" stroke="#0000ff" stroke-width="1.5" fill="none"/>
<circle cx="820" cy="676" r="5.8" fill="#0000ff"/>
<circle cx="835" cy="720" r="5.8" fill="#0000ff"/>
<circle cx="820" cy="726.3" r="5.8" fill="#0000ff"/>
<circle cx="820" cy="745" r="5.8" fill="#0000ff"/>
<circle cx="820" cy="759.5" r="5.8" fill="#0000ff"/>
<path d="M863.65 888.45V856H900.35V888.45" fill="none" stroke="#dc0000" stroke-width="4.35" stroke-linejoin="miter"/>
<path d="M882 853V859M871.7 853H892.3M871.7 859H892.3" stroke="#dc0000" stroke-width="1.5" fill="none"/>
<rect x="861.9" y="853.7" width="11.2" height="11.2" fill="#dc0000"/>
<rect x="868.9" y="848.2" width="11.2" height="11.2" fill="#dc0000"/>
<rect x="876.4" y="851.9" width="11.2" height="11.2" fill="#dc0000"/>
<rect x="883.9" y="850.7" width="11.2" height="11.2" fill="#dc0000"/>
<rect x="891.4" y="856.2" width="11.2" height="11.2" fill="#dc0000"/>
<path d="M925.75 888.45V830.9H962.45V888.45" fill="none" stroke="#6cbe2e" stroke-width="4.35" stroke-linejoin="miter"/>
<path d="M944.1 820V837.5M933.8 820H954.4M933.8 837.5H954.4" stroke="#6cbe2e" stroke-width="1.5" fill="none"/>
<path d="M928.8 819.7L934.9 831.2H922.7Z" fill="#6cbe2e"/>
<path d="M940 816.2L946.1 827.7H933.9Z" fill="#6cbe2e"/>
<path d="M959.3 816.2L965.4 827.7H953.2Z" fill="#6cbe2e"/>
<path d="M949.3 825.5L955.4 837H943.2Z" fill="#6cbe2e"/>
<path d="M939.3 837.2L945.4 848.7H933.2Z" fill="#6cbe2e"/>
<path d="M988.05 888.45V773.9H1024.75V888.45" fill="none" stroke="#9810e0" stroke-width="4.35" stroke-linejoin="miter"/>
<path d="M1006.4 761V783.5M996.1 761H1016.7M996.1 783.5H1016.7" stroke="#9810e0" stroke-width="1.5" fill="none"/>
<path d="M991.8 764.3L997.9 752.8H985.7Z" fill="#9810e0"/>
<path d="M1021.8 770.6L1027.9 759.1H1015.7Z" fill="#9810e0"/>
<path d="M1006.8 774.8L1012.9 763.3H1000.7Z" fill="#9810e0"/>
<path d="M991.8 790.6L997.9 779.1H985.7Z" fill="#9810e0"/>
<path d="M1021.8 790.6L1027.9 779.1H1015.7Z" fill="#9810e0"/>
<path d="M778.1 564.45V889.85" stroke="#000" stroke-width="2.5" fill="none"/><path d="M767.1 888.45H1049.7" stroke="#000" stroke-width="2.9" fill="none"/>
<text x="764.1" y="895.95" text-anchor="end" font-family="Liberation Serif, serif" font-weight="bold" font-size="21.5">0.0</text>
<path d="M767.1 807.8H778.6" stroke="#000" stroke-width="2.9"/>
<text x="764.1" y="815.3" text-anchor="end" font-family="Liberation Serif, serif" font-weight="bold" font-size="21.5">0.5</text>
<path d="M767.1 727.15H778.6" stroke="#000" stroke-width="2.9"/>
<text x="764.1" y="734.65" text-anchor="end" font-family="Liberation Serif, serif" font-weight="bold" font-size="21.5">1.0</text>
<path d="M767.1 646.5H778.6" stroke="#000" stroke-width="2.9"/>
<text x="764.1" y="654" text-anchor="end" font-family="Liberation Serif, serif" font-weight="bold" font-size="21.5">1.5</text>
<path d="M767.1 565.85H778.6" stroke="#000" stroke-width="2.9"/>
<text x="764.1" y="573.35" text-anchor="end" font-family="Liberation Serif, serif" font-weight="bold" font-size="21.5">2.0</text>
<path d="M819.6 888.45V900.3" stroke="#000" stroke-width="2.6"/>
<text transform="translate(827.9 917.8) rotate(-45)" text-anchor="end" font-family="Liberation Serif, serif" font-weight="bold" font-size="21">PF</text>
<path d="M882 888.45V900.3" stroke="#000" stroke-width="2.6"/>
<text transform="translate(890.3 917.8) rotate(-45)" text-anchor="end" font-family="Liberation Serif, serif" font-weight="bold" font-size="21">AF</text>
<path d="M944.1 888.45V900.3" stroke="#000" stroke-width="2.6"/>
<text transform="translate(952.4 917.8) rotate(-45)" text-anchor="end" font-family="Liberation Serif, serif" font-weight="bold" font-size="21">AF+XZTZ-L</text>
<path d="M1006.4 888.45V900.3" stroke="#000" stroke-width="2.6"/>
<text transform="translate(1014.7 917.8) rotate(-45)" text-anchor="end" font-family="Liberation Serif, serif" font-weight="bold" font-size="21">AF+XZTZ-H</text>
<text transform="translate(698.5 727) rotate(-90)" text-anchor="middle" font-family="Liberation Serif, serif" font-weight="bold" font-size="22.8">Liver <tspan font-style="italic">GCLC</tspan> mRNA level</text>
<text transform="translate(725 727) rotate(-90)" text-anchor="middle" font-family="Liberation Serif, serif" font-weight="bold" font-size="22.8">(Relative expression)</text>
<path d="M819.3 642.3V657.9M877.7 642.3V657.9M819.3 650.05H877.7" stroke="#000" stroke-width="2.6" fill="none"/>
<text x="849.3" y="644.6" text-anchor="middle" font-family="Liberation Serif, serif" font-weight="bold" font-size="19.8">***</text>
<path d="M885.3 642.3V657.9M945 642.3V657.9M885.3 650.05H945" stroke="#000" stroke-width="2.6" fill="none"/>
<text x="915" y="644.6" text-anchor="middle" font-family="Liberation Serif, serif" font-weight="bold" font-size="19.8">***</text>
<path d="M885.3 612.8V628.4M1007 612.8V628.4M885.3 620.55H1007" stroke="#000" stroke-width="2.6" fill="none"/>
<text x="946.3" y="615.1" text-anchor="middle" font-family="Liberation Serif, serif" font-weight="bold" font-size="19.8">***</text>
<path d="M1343.25 888.45V726.6H1379.95V888.45" fill="none" stroke="#0000ff" stroke-width="4.35" stroke-linejoin="miter"/>
<path d="M1361.6 696.8V753.8M1351.3 696.8H1371.9M1351.3 753.8H1371.9" stroke="#0000ff" stroke-width="1.5" fill="none"/>
<circle cx="1361.8" cy="685.5" r="5.8" fill="#0000ff"/>
<circle cx="1346.8" cy="718" r="5.8" fill="#0000ff"/>
<circle cx="1361.8" cy="718" r="5.8" fill="#0000ff"/>
<circle cx="1377" cy="749.3" r="5.8" fill="#0000ff"/>
<circle cx="1346.8" cy="756.5" r="5.8" fill="#0000ff"/>
<path d="M1405.55 888.45V829.4H1442.25V888.45" fill="none" stroke="#dc0000" stroke-width="4.35" stroke-linejoin="miter"/>
<path d="M1423.9 814.5V841M1413.6 814.5H1434.2M1413.6 841H1434.2" stroke="#dc0000" stroke-width="1.5" fill="none"/>
<rect x="1403.2" y="806.2" width="11.2" height="11.2" fill="#dc0000"/>
<rect x="1433.7" y="812.4" width="11.2" height="11.2" fill="#dc0000"/>
<rect x="1418.2" y="821.7" width="11.2" height="11.2" fill="#dc0000"/>
<rect x="1433.7" y="834.2" width="11.2" height="11.2" fill="#dc0000"/>
<rect x="1403.2" y="837.9" width="11.2" height="11.2" fill="#dc0000"/>
<path d="M1467.75 888.45V741.4H1504.45V888.45" fill="none" stroke="#6cbe2e" stroke-width="4.35" stroke-linejoin="miter"/>
<path d="M1486.1 727V752M1475.8 727H1496.4M1475.8 752H1496.4" stroke="#6cbe2e" stroke-width="1.5" fill="none"/>
<path d="M1501.3 715.2L1507.4 726.7H1495.2Z" fill="#6cbe2e"/>
<path d="M1485.8 732.5L1491.9 744H1479.7Z" fill="#6cbe2e"/>
<path d="M1501.3 731.2L1507.4 742.7H1495.2Z" fill="#6cbe2e"/>
<path d="M1470.8 747.5L1476.9 759H1464.7Z" fill="#6cbe2e"/>
<path d="M1501.3 743.7L1507.4 755.2H1495.2Z" fill="#6cbe2e"/>
<path d="M1529.85 888.45V696.8H1566.55V888.45" fill="none" stroke="#9810e0" stroke-width="4.35" stroke-linejoin="miter"/>
<path d="M1548.2 656V733M1537.9 656H1558.5M1537.9 733H1558.5" stroke="#9810e0" stroke-width="1.5" fill="none"/>
<path d="M1548.3 660.6L1554.4 649.1H1542.2Z" fill="#9810e0"/>
<path d="M1533.3 681.3L1539.4 669.8H1527.2Z" fill="#9810e0"/>
<path d="M1548.3 688.8L1554.4 677.3H1542.2Z" fill="#9810e0"/>
<path d="M1548.3 707.6L1554.4 696.1H1542.2Z" fill="#9810e0"/>
<path d="M1548.3 762.6L1554.4 751.1H1542.2Z" fill="#9810e0"/>
<path d="M1320.1 564.45V889.85" stroke="#000" stroke-width="2.5" fill="none"/><path d="M1309.1 888.45H1591.5" stroke="#000" stroke-width="2.9" fill="none"/>
<text x="1306.1" y="895.95" text-anchor="end" font-family="Liberation Serif, serif" font-weight="bold" font-size="21.5">0.0</text>
<path d="M1309.1 807.8H1320.6" stroke="#000" stroke-width="2.9"/>
<text x="1306.1" y="815.3" text-anchor="end" font-family="Liberation Serif, serif" font-weight="bold" font-size="21.5">0.5</text>
<path d="M1309.1 727.15H1320.6" stroke="#000" stroke-width="2.9"/>
<text x="1306.1" y="734.65" text-anchor="end" font-family="Liberation Serif, serif" font-weight="bold" font-size="21.5">1.0</text>
<path d="M1309.1 646.5H1320.6" stroke="#000" stroke-width="2.9"/>
<text x="1306.1" y="654" text-anchor="end" font-family="Liberation Serif, serif" font-weight="bold" font-size="21.5">1.5</text>
<path d="M1309.1 565.85H1320.6" stroke="#000" stroke-width="2.9"/>
<text x="1306.1" y="573.35" text-anchor="end" font-family="Liberation Serif, serif" font-weight="bold" font-size="21.5">2.0</text>
<path d="M1361.6 888.45V900.3" stroke="#000" stroke-width="2.6"/>
<text transform="translate(1369.9 917.8) rotate(-45)" text-anchor="end" font-family="Liberation Serif, serif" font-weight="bold" font-size="21">PF</text>
<path d="M1423.9 888.45V900.3" stroke="#000" stroke-width="2.6"/>
<text transform="translate(1432.2 917.8) rotate(-45)" text-anchor="end" font-family="Liberation Serif, serif" font-weight="bold" font-size="21">AF</text>
<path d="M1486.1 888.45V900.3" stroke="#000" stroke-width="2.6"/>
<text transform="translate(1494.4 917.8) rotate(-45)" text-anchor="end" font-family="Liberation Serif, serif" font-weight="bold" font-size="21">AF+XZTZ-L</text>
<path d="M1548.2 888.45V900.3" stroke="#000" stroke-width="2.6"/>
<text transform="translate(1556.5 917.8) rotate(-45)" text-anchor="end" font-family="Liberation Serif, serif" font-weight="bold" font-size="21">AF+XZTZ-H</text>
<text transform="translate(1240.5 727) rotate(-90)" text-anchor="middle" font-family="Liberation Serif, serif" font-weight="bold" font-size="22.8">Liver <tspan font-style="italic">GPX-1</tspan> mRNA level</text>
<text transform="translate(1267 727) rotate(-90)" text-anchor="middle" font-family="Liberation Serif, serif" font-weight="bold" font-size="22.8">(Relative expression)</text>
<path d="M1361.5 642.3V657.9M1419.7 642.3V657.9M1361.5 650.05H1419.7" stroke="#000" stroke-width="2.6" fill="none"/>
<text x="1391.3" y="644.6" text-anchor="middle" font-family="Liberation Serif, serif" font-weight="bold" font-size="19.8">***</text>
<path d="M1427.3 642.3V657.9M1486.8 642.3V657.9M1427.3 650.05H1486.8" stroke="#000" stroke-width="2.6" fill="none"/>
<text x="1457.5" y="644.6" text-anchor="middle" font-family="Liberation Serif, serif" font-weight="bold" font-size="19.8">***</text>
<path d="M1427.3 612.8V628.4M1548.8 612.8V628.4M1427.3 620.55H1548.8" stroke="#000" stroke-width="2.6" fill="none"/>
<text x="1488.3" y="615.1" text-anchor="middle" font-family="Liberation Serif, serif" font-weight="bold" font-size="19.8">***</text>
</svg></body></html>
